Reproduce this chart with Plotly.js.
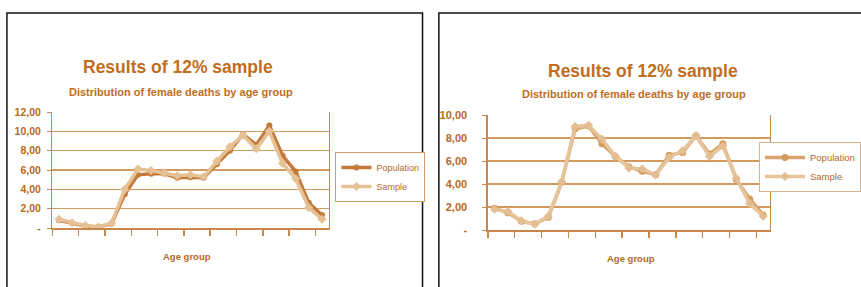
<!DOCTYPE html>
<html>
<head>
<meta charset="utf-8">
<script src="https://cdn.plot.ly/plotly-3.0.1.min.js"></script>
<style>html,body{margin:0;padding:0;background:#fff;overflow:hidden;width:861px;height:287px;}#chart{width:861px;height:287px;overflow:hidden;}</style>
</head>
<body>
<div id="chart"></div>
<script>
// Age groups (not labelled on the chart)
const ageGroups = ["0","1-4","5-9","10-14","15-19","20-24","25-29","30-34","35-39","40-44","45-49","50-54","55-59","60-64","65-69","70-74","75-79","80-84","85-89","90-94","95+"];

// Left chart
const leftPopulation = [0.8,0.5,0.2,0.1,0.45,3.5,5.5,5.6,5.6,5.2,5.25,5.2,6.6,8.0,9.7,8.6,10.6,7.5,5.85,2.6,1.35];
const leftSample     = [0.9,0.55,0.25,0.1,0.5,4.0,6.1,5.95,5.7,5.4,5.5,5.3,6.9,8.4,9.6,8.2,10.0,6.7,5.1,2.1,0.9];

// Right chart
const rightPopulation = [1.9,1.5,0.75,0.55,1.1,4.15,8.8,9.05,7.5,6.4,5.5,5.1,4.8,6.5,6.75,8.2,6.6,7.5,4.4,2.7,1.3];
const rightSample     = [1.8,1.6,0.8,0.5,1.2,4.2,9.0,9.1,7.9,6.4,5.4,5.3,4.8,6.3,6.9,8.2,6.4,7.3,4.5,2.3,1.2];

const leftTickVals = [0,2,4,6,8,10,12];
const leftTickText = ["-","2,00","4,00","6,00","8,00","10,00","12,00"];
const rightTickVals = [0,2,4,6,8,10];
const rightTickText = ["-","2,00","4,00","6,00","8,00","10,00"];

const titleText = "Results of 12% sample";
const subtitleText = "Distribution of female deaths by age group";
const xTitleText = "Age group";
const seriesNames = ["Population","Sample"];

const W = 861, H = 287;
const px = v => v / W;
const py = v => 1 - v / H;

const brown = "#b8681f";
const gridCol = "#d29a5c";
const popCol = "#c47b3a";
const sampCol = "#e6c196";
const FONT = "Liberation Sans, Arial, sans-serif";

const traces = [
  {x: ageGroups, y: leftPopulation, name: seriesNames[0], type: "scatter", mode: "lines+markers",
   xaxis: "x", yaxis: "y", legend: "legend",
   line: {color: popCol, width: 3.5}, marker: {symbol: "circle", size: 6, color: popCol}},
  {x: ageGroups, y: leftSample, name: seriesNames[1], type: "scatter", mode: "lines+markers",
   xaxis: "x", yaxis: "y", legend: "legend",
   line: {color: sampCol, width: 3.5}, marker: {symbol: "diamond", size: 7, color: sampCol}},
  {x: ageGroups, y: rightPopulation, name: seriesNames[0], type: "scatter", mode: "lines+markers",
   xaxis: "x2", yaxis: "y2", legend: "legend2",
   line: {color: "#d9a36c", width: 3.5}, marker: {symbol: "circle", size: 7, color: "#d49a5e"}},
  {x: ageGroups, y: rightSample, name: seriesNames[1], type: "scatter", mode: "lines+markers",
   xaxis: "x2", yaxis: "y2", legend: "legend2",
   line: {color: "#e7c49c", width: 3.5}, marker: {symbol: "diamond", size: 7, color: "#e4bd92"}}
];

function xAxis(domain, anchor) {
  return {domain: domain, anchor: anchor, type: "category", range: [-0.5, 20.5],
    showgrid: false, showline: true, linecolor: "#c8874a", linewidth: 1.5, mirror: false,
    ticks: "outside", ticklen: 6, tickcolor: "#c8874a", tickwidth: 1.5, tickson: "boundaries",
    showticklabels: false, zeroline: false, fixedrange: true};
}
function yAxis(domain, anchor, vals, text, max, standoff, fsize) {
  return {domain: domain, anchor: anchor, range: [0, max], tickvals: vals, ticktext: text,
    showgrid: true, gridcolor: gridCol, gridwidth: 1.5, zeroline: false,
    showline: true, linecolor: "#c8874a", linewidth: 1.5, mirror: true,
    ticks: "outside", ticklen: 4, tickcolor: "#c8874a",
    ticklabelstandoff: standoff,
    tickfont: {family: FONT, size: fsize, color: brown, weight: "bold"}, fixedrange: true};
}

const layout = {
  width: W, height: H, margin: {l: 0, r: 0, t: 0, b: 0},
  paper_bgcolor: "#fff", plot_bgcolor: "#fff", showlegend: true,
  xaxis: xAxis([px(53), px(332)], "y"),
  yaxis: yAxis([1 - 228/H, 1 - 112/H], "x", leftTickVals, leftTickText, 12, 4, 10.5),
  xaxis2: xAxis([px(493), px(778)], "y2"),
  yaxis2: yAxis([1 - 230/H, 1 - 115/H], "x2", rightTickVals, rightTickText, 10, 13, 11),
  legend: {x: px(339), y: py(152), xanchor: "left", yanchor: "top", bgcolor: "#fff",
    bordercolor: "#d59a60", borderwidth: 1, itemwidth: 30, tracegroupgap: 0,
    font: {family: FONT, size: 9, color: brown}},
  legend2: {x: px(767), y: py(142), xanchor: "left", yanchor: "top", bgcolor: "#fff",
    bordercolor: "#d8b28a", borderwidth: 1, itemwidth: 40, tracegroupgap: 0,
    font: {family: FONT, size: 9.5, color: brown}},
  shapes: [
    {type: "rect", xref: "paper", yref: "paper", x0: px(7), x1: px(427), y0: -0.1, y1: py(13),
     line: {color: "#111", width: 1.5}},
    {type: "rect", xref: "paper", yref: "paper", x0: px(443.5), x1: 1.1, y0: -0.1, y1: py(13),
     line: {color: "#111", width: 1.5}}
  ],
  annotations: [
    {text: titleText, xref: "paper", yref: "paper", x: px(180), y: py(67), showarrow: false,
     xanchor: "center", yanchor: "middle", font: {family: FONT, size: 17.5, color: "#c06d22", weight: "bold"}},
    {text: subtitleText, xref: "paper", yref: "paper", x: px(183), y: py(92), showarrow: false,
     xanchor: "center", yanchor: "middle", font: {family: FONT, size: 11, color: "#c06d22", weight: "bold"}},
    {text: xTitleText, xref: "paper", yref: "paper", x: px(189), y: py(256), showarrow: false,
     xanchor: "center", yanchor: "middle", font: {family: FONT, size: 9.5, color: brown, weight: "bold"}},
    {text: titleText, xref: "paper", yref: "paper", x: px(650), y: py(71), showarrow: false,
     xanchor: "center", yanchor: "middle", font: {family: FONT, size: 17.5, color: "#c06d22", weight: "bold"}},
    {text: subtitleText, xref: "paper", yref: "paper", x: px(641), y: py(94), showarrow: false,
     xanchor: "center", yanchor: "middle", font: {family: FONT, size: 11, color: "#c06d22", weight: "bold"}},
    {text: xTitleText, xref: "paper", yref: "paper", x: px(638), y: py(258), showarrow: false,
     xanchor: "center", yanchor: "middle", font: {family: FONT, size: 9.5, color: brown, weight: "bold"}}
  ]
};

Plotly.newPlot("chart", traces, layout, {staticPlot: true, displayModeBar: false});
</script>
</body>
</html>
